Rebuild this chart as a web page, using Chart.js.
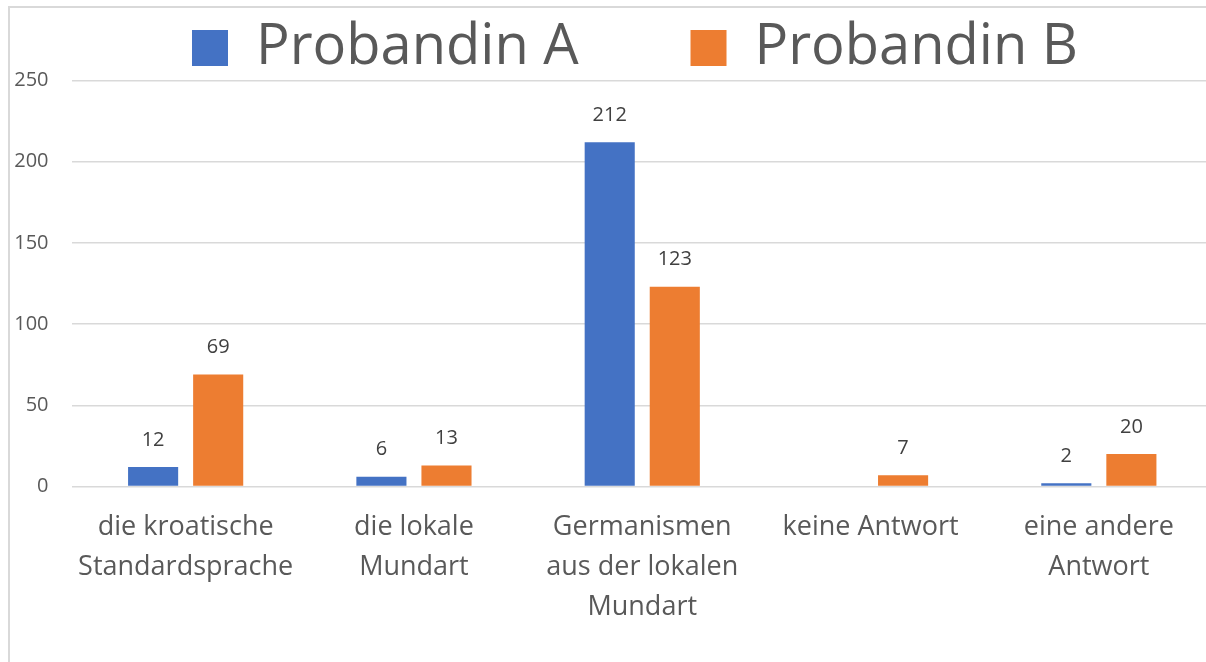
<!DOCTYPE html>
<html>
<head>
<meta charset="utf-8">
<script src="https://cdn.jsdelivr.net/npm/chart.js@4.4.1/dist/chart.umd.min.js"></script>
<style>
    html, body { margin: 0; padding: 0; background: #fff; overflow: hidden; width: 1206px; height: 662px; }
    #frame { position: absolute; left: 8px; top: 6px; width: 1300px; height: 700px; border: 2px solid #d9d9d9; }
    #wrap { position: absolute; left: 0; top: 0; width: 1245px; height: 662px; }
</style>
</head>
<body>
<div id="frame"></div>
<div id="wrap"><canvas id="chart"></canvas></div>
<script>
const categories = [
    ["die kroatische", "Standardsprache"],
    ["die lokale", "Mundart"],
    ["Germanismen", "aus der lokalen", "Mundart"],
    ["keine Antwort"],
    ["eine andere", "Antwort"]
]
const seriesNames = ["Probandin A", "Probandin B"]
const probandinA = [12, 6, 212, null, 2]
const probandinB = [69, 13, 123, 7, 20]
const yTicks = [0, 50, 100, 150, 200, 250]

const FONT = "'Open Sans'"

// value labels above each bar, like the Excel data labels
const barLabels = {
    id: "barLabels",
    afterDatasetsDraw(chart) {
        const ctx = chart.ctx
        ctx.save()
        ctx.font = "20px " + FONT
        ctx.fillStyle = "#404040"
        ctx.textAlign = "center"
        ctx.textBaseline = "middle"
        chart.data.datasets.forEach((ds, i) => {
            chart.getDatasetMeta(i).data.forEach((bar, j) => {
                if (ds.data[j] == null) return
                ctx.fillText(ds.data[j], bar.x, bar.y - 27)
            })
        })
        ctx.restore()
    }
}

function draw() {
    const canvas = document.getElementById("chart")
    new Chart(canvas, {
        type: "bar",
        data: {
            labels: categories,
            datasets: [
                { label: seriesNames[0], data: probandinA, backgroundColor: "#4472C4" },
                { label: seriesNames[1], data: probandinB, backgroundColor: "#ED7D31" }
            ]
        },
        options: {
            responsive: true,
            maintainAspectRatio: false,
            animation: false,
            events: [],
            layout: { padding: { top: 10, right: 32, left: 0, bottom: 0 } },
            datasets: { bar: { categoryPercentage: 0.57, barPercentage: 0.77 } },
            plugins: {
                legend: {
                    position: "top",
                    fullSize: false,
                    maxHeight: 70.5,
                    labels: {
                        font: { family: FONT, size: 56 },
                        color: "#595959",
                        boxWidth: 36,
                        boxHeight: 36,
                        padding: 10,
                        generateLabels(chart) {
                            const items = Chart.defaults.plugins.legend.labels.generateLabels(chart)
                            // wider gap between the two entries
                            items[0].text = items[0].text + "       "
                            items[1].text = items[1].text + " "
                            return items
                        }
                    }
                },
                tooltip: { enabled: false }
            },
            scales: {
                x: {
                    grid: { display: false },
                    border: { display: false },
                    ticks: {
                        font: { family: FONT, size: 27, lineHeight: 1.48 },
                        color: "#595959",
                        padding: 13,
                        maxRotation: 0,
                        autoSkip: false
                    },
                    afterFit(scale) { scale.height = 175.5 }
                },
                y: {
                    min: yTicks[0],
                    max: yTicks[yTicks.length - 1],
                    border: { display: false },
                    grid: { color: "#d9d9d9", lineWidth: 1.5, drawTicks: false },
                    ticks: {
                        stepSize: yTicks[1] - yTicks[0],
                        font: { family: FONT, size: 20 },
                        color: "#595959",
                        padding: 23
                    },
                    afterFit(scale) { scale.width = 71.5 }
                }
            }
        },
        plugins: [barLabels]
    })
}

document.fonts.load("20px 'Open Sans'").then(draw, draw)
</script>
</body>
</html>
